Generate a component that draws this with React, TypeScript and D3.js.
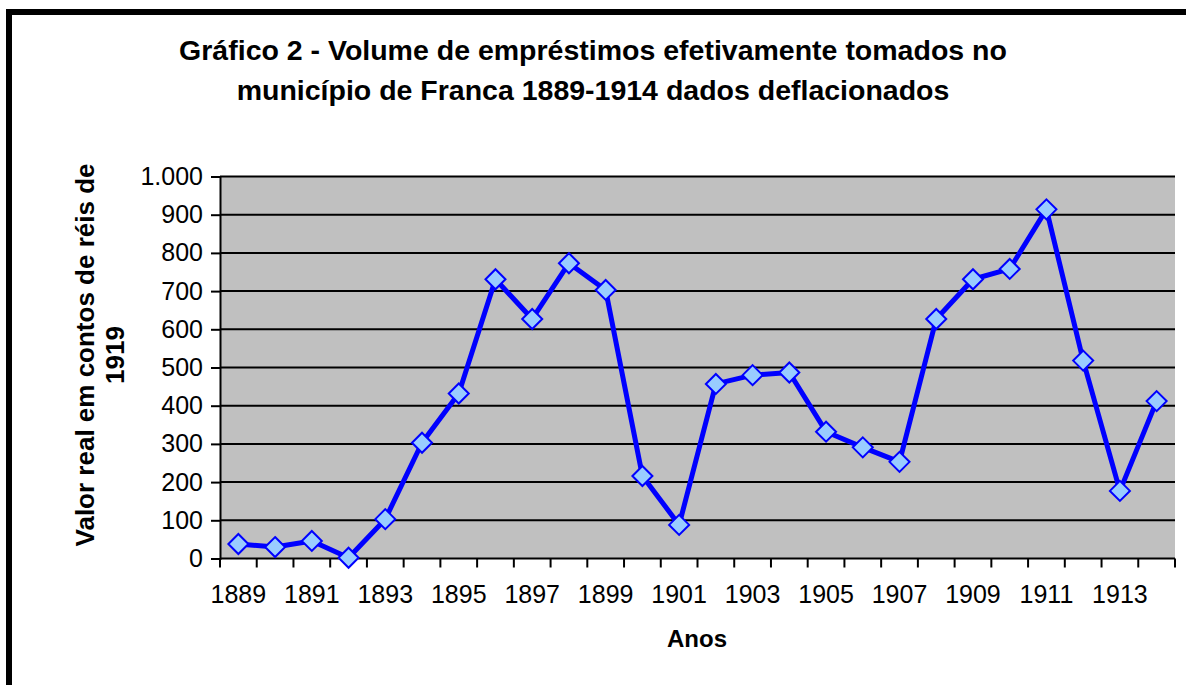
import React, { useEffect, useRef } from "react";
import * as d3 from "d3";

// Years on the category axis.
const years = [
  1889, 1890, 1891, 1892, 1893, 1894, 1895, 1896, 1897, 1898, 1899, 1900, 1901,
  1902, 1903, 1904, 1905, 1906, 1907, 1908, 1909, 1910, 1911, 1912, 1913, 1914,
];

// Real value in contos de réis of 1919.
const values = [
  38, 30, 46, 2, 103, 303, 432, 731, 627, 773, 703, 216, 88,
  457, 480, 487, 332, 291, 253, 627, 731, 758, 914, 518, 177, 412,
];

const yTicks = [0, 100, 200, 300, 400, 500, 600, 700, 800, 900, 1000];
const xLabelYears = [1889, 1891, 1893, 1895, 1897, 1899, 1901, 1903, 1905, 1907, 1909, 1911, 1913];

const titleLines = [
  "Gráfico 2 - Volume de empréstimos efetivamente tomados no",
  "município de Franca 1889-1914 dados deflacionados",
];
const yTitleLines = ["Valor real em contos de réis de", "1919"];
const xTitle = "Anos";

const W = 1186;
const H = 685;
const FONT = "'Liberation Sans', Arial, sans-serif";

const App = () => {
  const ref = useRef<SVGSVGElement>(null);

  useEffect(() => {
    const svg = d3.select(ref.current).attr("width", W).attr("height", H);
    svg.selectAll("*").remove();

    const left = 220;
    const right = 1175;
    const top = 176.5;
    const bottom = 558.5;

    svg.append("rect").attr("width", W).attr("height", H).attr("fill", "white");

    // Outer frame: only left and top edges fall inside the picture
    svg.append("path")
      .attr("d", `M9,${H + 10}V12H${W + 10}`)
      .attr("fill", "none").attr("stroke", "black").attr("stroke-width", 6);

    const x = d3.scaleBand<number>().domain(years).range([left, right]);
    const y = d3.scaleLinear().domain([0, 1000]).range([bottom, top]);

    // Plot area
    svg.append("rect")
      .attr("x", left).attr("y", top)
      .attr("width", right - left).attr("height", bottom - top)
      .attr("fill", "#c0c0c0");

    // Gridlines
    svg.append("g")
      .selectAll("line")
      .data(yTicks.filter(d => d > 0))
      .join("line")
      .attr("x1", left).attr("x2", right)
      .attr("y1", d => y(d)).attr("y2", d => y(d))
      .attr("stroke", "black").attr("stroke-width", 2);

    // Y axis
    const yAxis = svg.append("g")
      .attr("transform", `translate(${left},0)`)
      .call(d3.axisLeft(y).tickValues(yTicks).tickSize(9).tickPadding(8)
        .tickFormat(d => d3.format(",")(d as number).replace(",", ".")));
    yAxis.select(".domain").attr("stroke", "black").attr("stroke-width", 2);
    yAxis.selectAll(".tick line").attr("stroke", "black").attr("stroke-width", 2);
    yAxis.selectAll("text")
      .attr("font-family", FONT).attr("font-size", 25).attr("fill", "black");

    // X axis: ticks between categories
    const xAxisG = svg.append("g");
    xAxisG.append("line")
      .attr("x1", left).attr("x2", right)
      .attr("y1", bottom).attr("y2", bottom)
      .attr("stroke", "black").attr("stroke-width", 2);
    const boundaries = years.map(d => x(d)!).concat([right]);
    xAxisG.selectAll("line.tk")
      .data(boundaries)
      .join("line")
      .attr("class", "tk")
      .attr("x1", d => d).attr("x2", d => d)
      .attr("y1", bottom).attr("y2", bottom + 9)
      .attr("stroke", "black").attr("stroke-width", 2);
    xAxisG.selectAll("text")
      .data(xLabelYears)
      .join("text")
      .attr("x", d => x(d)! + x.bandwidth() / 2)
      .attr("y", 603)
      .attr("text-anchor", "middle")
      .attr("font-family", FONT).attr("font-size", 25)
      .text(d => String(d));

    // Line
    const cx = (i: number) => x(years[i])! + x.bandwidth() / 2;
    const line = d3.line<number>()
      .x((_, i) => cx(i))
      .y(d => y(d));
    svg.append("path")
      .datum(values)
      .attr("fill", "none")
      .attr("stroke", "#0000ff")
      .attr("stroke-width", 5)
      .attr("stroke-linejoin", "round")
      .attr("d", line);

    // Diamond markers
    const r = 10;
    svg.append("g")
      .selectAll("path")
      .data(values)
      .join("path")
      .attr("d", (d, i) => {
        const px = cx(i), py = y(d);
        return `M${px},${py - r}L${px + r},${py}L${px},${py + r}L${px - r},${py}Z`;
      })
      .attr("fill", "#99ccff")
      .attr("stroke", "#0000ff")
      .attr("stroke-width", 2);

    // Title
    svg.append("g")
      .selectAll("text")
      .data(titleLines)
      .join("text")
      .attr("x", 593)
      .attr("y", (_, i) => 60 + i * 40)
      .attr("text-anchor", "middle")
      .attr("font-family", FONT).attr("font-weight", "bold").attr("font-size", 28.5)
      .text(d => d);

    // Y axis title
    svg.append("g")
      .attr("transform", `translate(0,355) rotate(-90)`)
      .selectAll("text")
      .data(yTitleLines)
      .join("text")
      .attr("x", 0)
      .attr("y", (_, i) => 94 + i * 30)
      .attr("text-anchor", "middle")
      .attr("font-family", FONT).attr("font-weight", "bold").attr("font-size", 26)
      .text(d => d);

    // X axis title
    svg.append("text")
      .attr("x", 697).attr("y", 647)
      .attr("text-anchor", "middle")
      .attr("font-family", FONT).attr("font-weight", "bold").attr("font-size", 24)
      .text(xTitle);
  }, []);

  return (
    <div style={{ position: "absolute", left: 0, top: 0 }}>
      <svg ref={ref} style={{ display: "block" }}></svg>
    </div>
  );
};

export default App;
